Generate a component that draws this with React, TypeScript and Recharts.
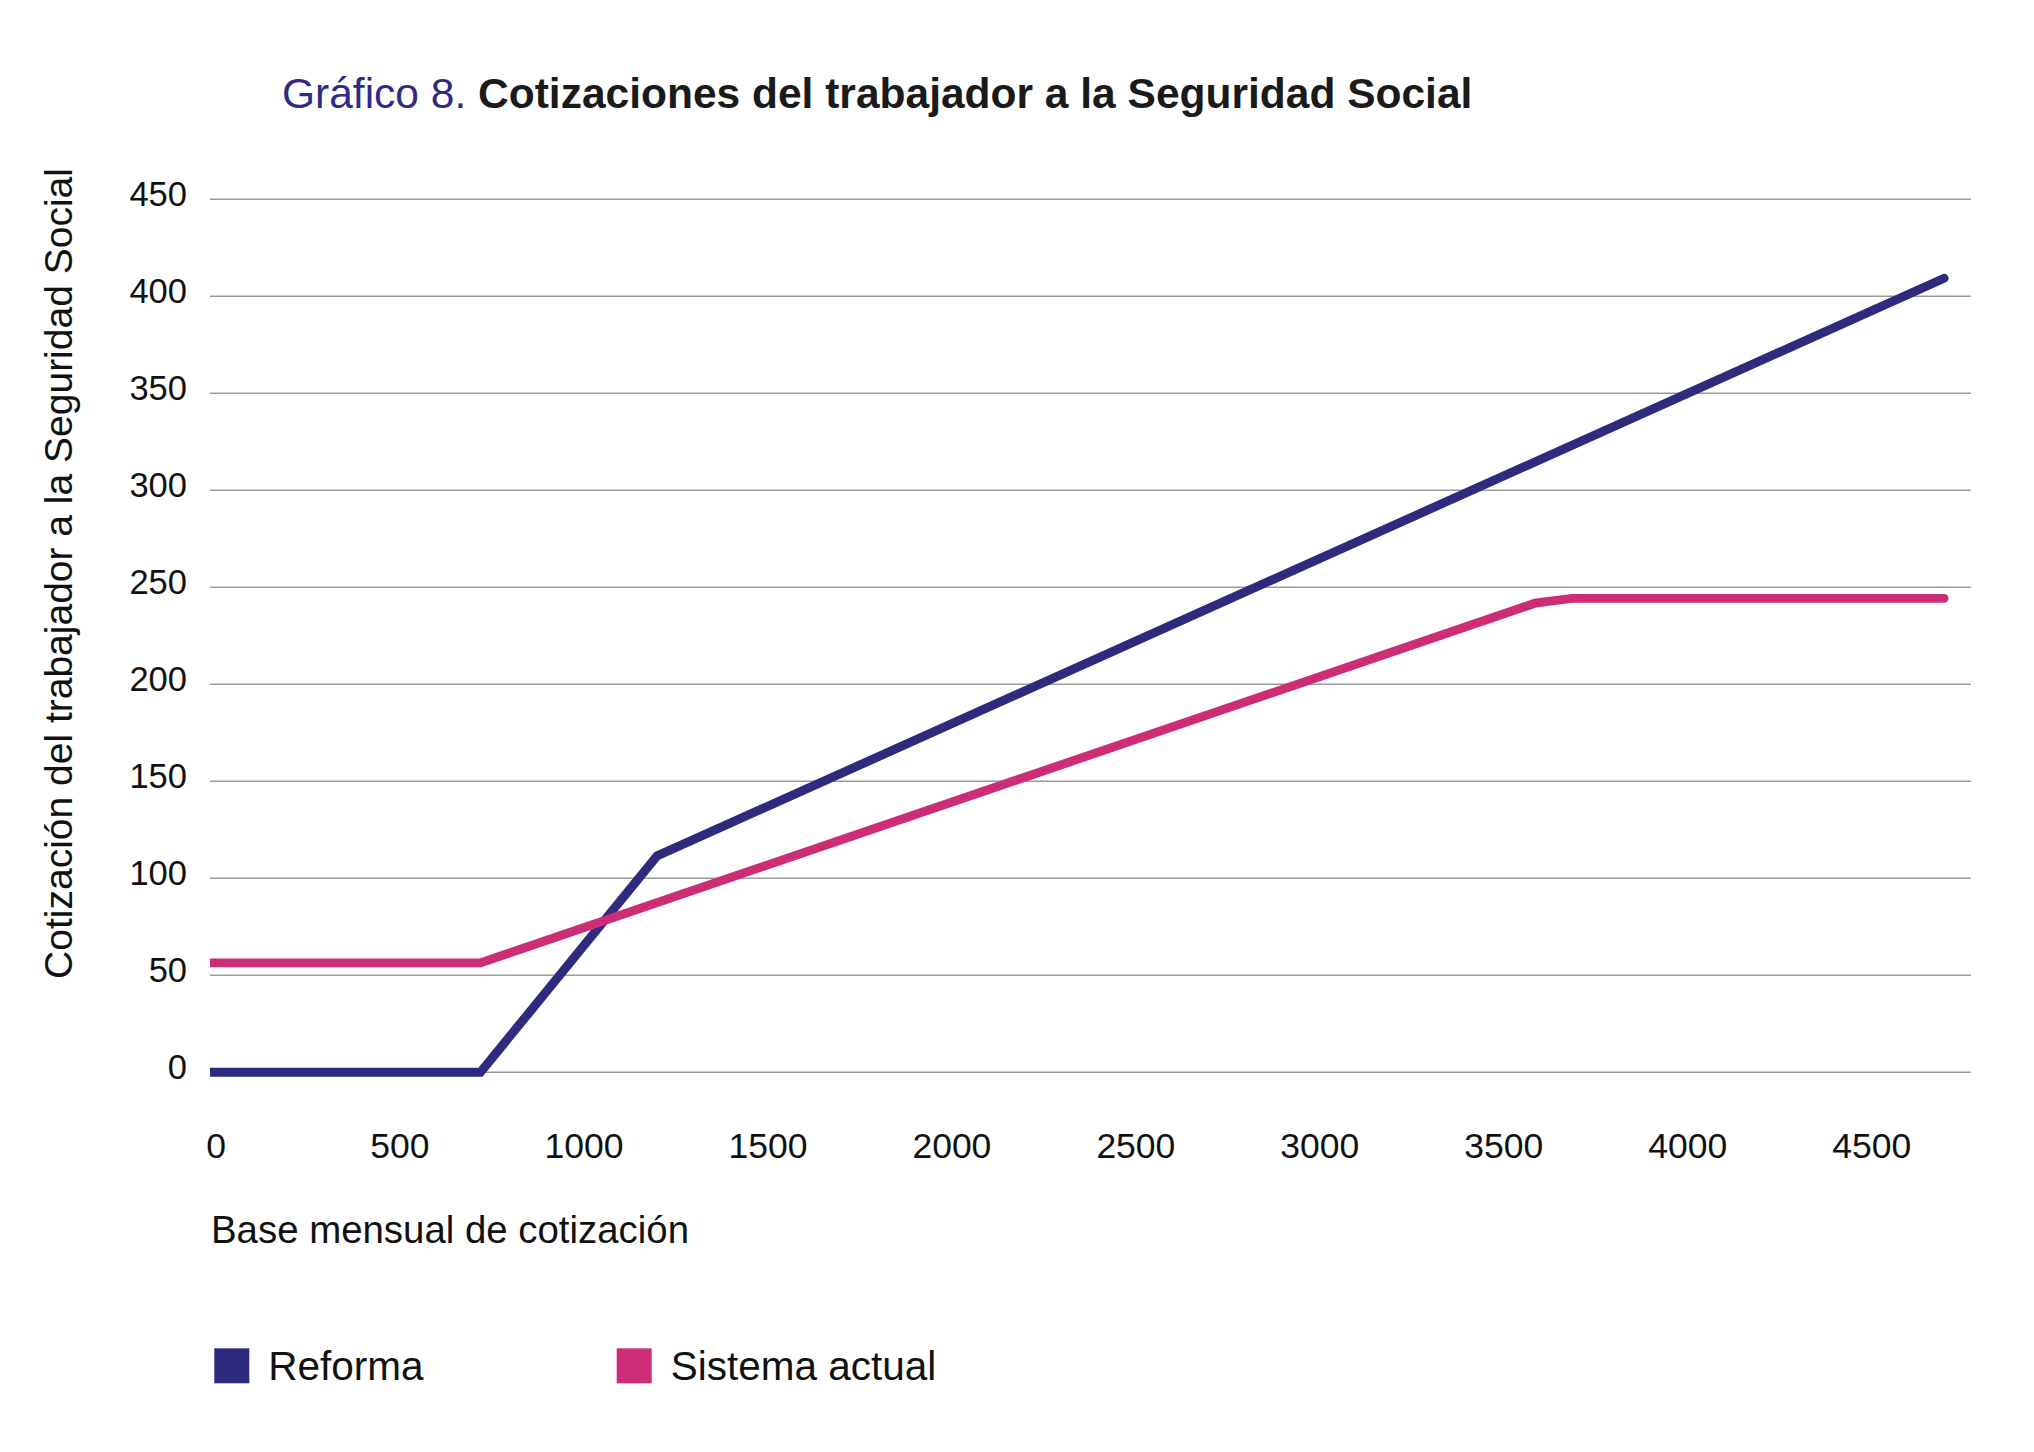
import React from 'react';
import { LineChart, Line, XAxis, YAxis, CartesianGrid, Legend } from 'recharts';

// ---- data ----
const reformaX = [0, 735, 1215, 4713];
const reformaY = [0, 0, 111.5, 409.3];

const sistemaX = [0, 735, 3601, 3701, 4713];
const sistemaY = [56.4, 56.4, 241.8, 244.3, 244.3];

const xTicks = [0, 500, 1000, 1500, 2000, 2500, 3000, 3500, 4000, 4500];
const yTicks = [0, 50, 100, 150, 200, 250, 300, 350, 400, 450];

const seriesNames = ['Reforma', 'Sistema actual'];
const titlePrefix = 'Gráfico 8.';
const titleMain = 'Cotizaciones del trabajador a la Seguridad Social';
const yAxisTitle = 'Cotización del trabajador a la Seguridad Social';
const xAxisTitle = 'Base mensual de cotización';

const reformaData = reformaX.map((x, i) => ({ x, y: reformaY[i] }));
const sistemaData = sistemaX.map((x, i) => ({ x, y: sistemaY[i] }));

const FONT = '"Liberation Sans", Arial, Helvetica, sans-serif';
const BLUE = '#2e2a7e';
const PINK = '#cd2d77';

const W = 2034;
const H = 1452;

const YTick = (props: any) => {
  const { x, y, payload } = props;
  return (
    <text x={x} y={y + 6.7} textAnchor="end" fontFamily={FONT} fontSize={34.5} fill="#111">
      {payload.value}
    </text>
  );
};

const XTick = (props: any) => {
  const { x, y, payload } = props;
  return (
    <text x={x + 6} y={y + 86} textAnchor="middle" fontFamily={FONT} fontSize={35.5} fill="#111">
      {payload.value}
    </text>
  );
};

const LegendContent = (props: any) => {
  const payload = props.payload || [];
  const starts = [214.3, 616.7];
  return (
    <svg width={W} height={60} style={{ display: 'block' }}>
      {payload.map((item: any, i: number) => (
        <g key={item.value}>
          <rect x={starts[i]} y={8.3} width={35} height={35} fill={item.color} />
          <text x={starts[i] + 54} y={40} fontFamily={FONT} fontSize={40.5} fill="#111">
            {item.value}
          </text>
        </g>
      ))}
    </svg>
  );
};

export default function App() {
  return (
    <div style={{ position: 'absolute', left: 0, top: 0, width: W, height: H, background: '#fff' }}>
      <div
        style={{
          position: 'absolute',
          left: 282,
          top: 72.5,
          fontFamily: FONT,
          fontSize: 42.5,
          lineHeight: '42.5px',
          whiteSpace: 'nowrap',
        }}
      >
        <span style={{ color: '#2e2a86' }}>{titlePrefix} </span>
        <span style={{ color: '#1a1a1a', fontWeight: 'bold' }}>{titleMain}</span>
      </div>
      <LineChart
        width={W}
        height={H}
        margin={{ top: 199.3, right: 63, bottom: 0, left: 0 }}
        style={{ position: 'absolute', left: 0, top: 0 }}
      >
        <CartesianGrid vertical={false} stroke="#9b9b9b" strokeWidth={1.5} />
        <XAxis
          type="number"
          dataKey="x"
          domain={[0, 4786]}
          ticks={xTicks}
          allowDataOverflow
          height={379.7}
          axisLine={false}
          tickLine={false}
          tickSize={0}
          tickMargin={0}
          tick={<XTick />}
          interval={0}
          label={{
            content: () => (
              <text x={211} y={1243.3} fontFamily={FONT} fontSize={38.4} fill="#111">
                {xAxisTitle}
              </text>
            ),
          }}
        />
        <YAxis
          type="number"
          domain={[0, 450]}
          ticks={yTicks}
          width={210}
          axisLine={false}
          tickLine={false}
          tickSize={0}
          tickMargin={23}
          tick={<YTick />}
          interval={0}
          label={{
            content: () => (
              <text
                x={71.7}
                y={573.5}
                transform="rotate(-90, 71.7, 573.5)"
                textAnchor="middle"
                fontFamily={FONT}
                fontSize={39}
                fill="#111"
              >
                {yAxisTitle}
              </text>
            ),
          }}
        />
        <Legend
          layout="horizontal"
          verticalAlign="middle"
          align="center"
          wrapperStyle={{ left: 0, top: 1340, width: W, height: 60 }}
          content={<LegendContent />}
        />
        <Line
          data={reformaData}
          dataKey="y"
          name={seriesNames[0]}
          type="linear"
          stroke={BLUE}
          strokeWidth={8.9}
          strokeLinecap="round"
          dot={false}
          activeDot={false}
          isAnimationActive={false}
        />
        <Line
          data={sistemaData}
          dataKey="y"
          name={seriesNames[1]}
          type="linear"
          stroke={PINK}
          strokeWidth={8.9}
          strokeLinecap="round"
          dot={false}
          activeDot={false}
          isAnimationActive={false}
        />
      </LineChart>
    </div>
  );
}
